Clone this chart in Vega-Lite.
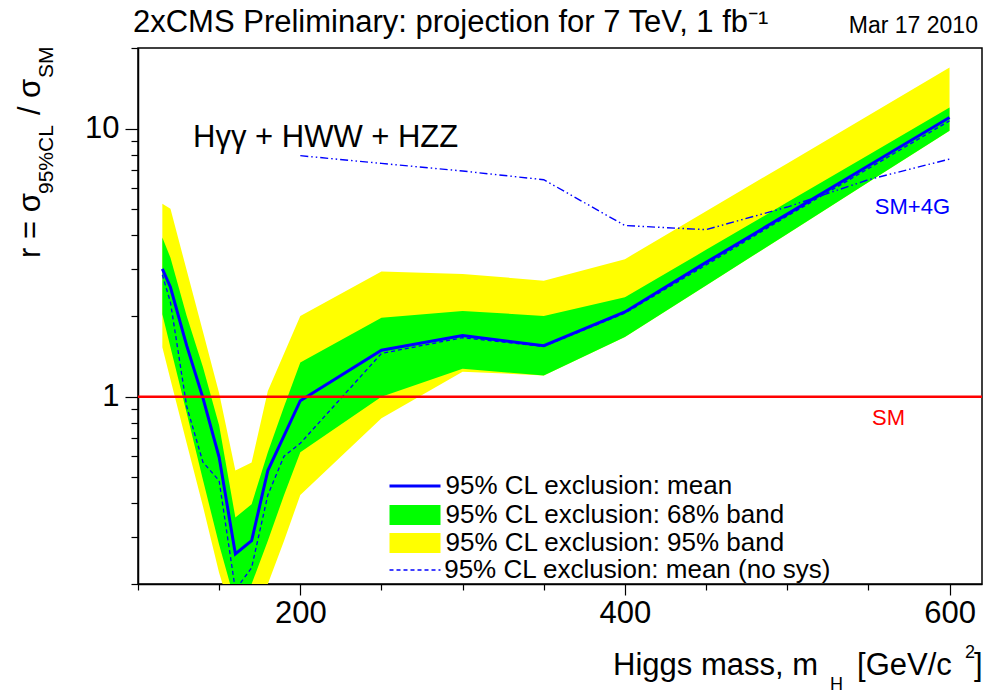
{
  "$schema": "https://vega.github.io/schema/vega-lite/v6.json",
  "width": 844,
  "height": 536,
  "autosize": {"type": "none"},
  "padding": {"left": 138, "top": 48, "right": 5, "bottom": 109},
  "background": "white",
  "config": {
    "view": {"stroke": "black", "strokeWidth": 1.5},
    "font": "Liberation Sans"
  },
  "data": {
    "values": [
      {"m": 115, "mean": 3.0, "nosys": 2.85, "g_lo": 2.03, "g_hi": 3.93, "y_lo": 1.53, "y_hi": 5.25, "sm4g": null},
      {"m": 120, "mean": 2.56, "nosys": 2.25, "g_lo": 1.53, "g_hi": 3.3, "y_lo": 1.16, "y_hi": 5.03, "sm4g": null},
      {"m": 130, "mean": 1.55, "nosys": 0.92, "g_lo": 0.87, "g_hi": 2.0, "y_lo": 0.67, "y_hi": 2.96, "sm4g": null},
      {"m": 140, "mean": 0.99, "nosys": 0.57, "g_lo": 0.49, "g_hi": 1.29, "y_lo": 0.39, "y_hi": 1.75, "sm4g": null},
      {"m": 150, "mean": 0.594, "nosys": 0.486, "g_lo": 0.28, "g_hi": 0.78, "y_lo": 0.22, "y_hi": 1.03, "sm4g": null},
      {"m": 160, "mean": 0.259, "nosys": 0.19, "g_lo": 0.17, "g_hi": 0.354, "y_lo": 0.14, "y_hi": 0.53, "sm4g": null},
      {"m": 170, "mean": 0.29, "nosys": 0.23, "g_lo": 0.2, "g_hi": 0.397, "y_lo": 0.15, "y_hi": 0.568, "sm4g": null},
      {"m": 180, "mean": 0.53, "nosys": 0.43, "g_lo": 0.29, "g_hi": 0.62, "y_lo": 0.2, "y_hi": 1.05, "sm4g": null},
      {"m": 190, "mean": 0.715, "nosys": 0.6, "g_lo": 0.43, "g_hi": 0.92, "y_lo": 0.29, "y_hi": 1.45, "sm4g": null},
      {"m": 200, "mean": 0.966, "nosys": 0.67, "g_lo": 0.62, "g_hi": 1.34, "y_lo": 0.43, "y_hi": 2.0, "sm4g": 7.93},
      {"m": 250, "mean": 1.49, "nosys": 1.45, "g_lo": 1.0, "g_hi": 1.97, "y_lo": 0.83, "y_hi": 2.93, "sm4g": 7.42},
      {"m": 300, "mean": 1.69, "nosys": 1.66, "g_lo": 1.27, "g_hi": 2.09, "y_lo": 1.24, "y_hi": 2.87, "sm4g": 6.95},
      {"m": 350, "mean": 1.55, "nosys": 1.54, "g_lo": 1.2, "g_hi": 2.0, "y_lo": 1.2, "y_hi": 2.71, "sm4g": 6.45},
      {"m": 400, "mean": 2.07, "nosys": 2.05, "g_lo": 1.67, "g_hi": 2.35, "y_lo": 1.67, "y_hi": 3.26, "sm4g": 4.35},
      {"m": 450, "mean": 3.17, "nosys": 3.1, "g_lo": 2.6, "g_hi": 3.53, "y_lo": 2.6, "y_hi": 4.92, "sm4g": 4.2},
      {"m": 500, "mean": 4.8, "nosys": 4.72, "g_lo": 4.05, "g_hi": 5.31, "y_lo": 4.05, "y_hi": 7.42, "sm4g": 5.1},
      {"m": 550, "mean": 7.27, "nosys": 7.1, "g_lo": 6.31, "g_hi": 7.98, "y_lo": 6.31, "y_hi": 11.2, "sm4g": 6.45},
      {"m": 600, "mean": 11.0, "nosys": 10.7, "g_lo": 9.83, "g_hi": 12.0, "y_lo": 9.83, "y_hi": 16.9, "sm4g": 7.7}
    ]
  },
  "layer": [
    {
      "mark": {"type": "area", "clip": true, "opacity": 1},
      "encoding": {
        "x": {
          "field": "m", "type": "quantitative",
          "scale": {"domain": [100, 620], "nice": false, "zero": false},
          "axis": {
            "title": null,
            "values": [100, 150, 200, 250, 300, 350, 400, 450, 500, 550, 600],
            "labelExpr": "datum.value == 200 || datum.value == 400 || datum.value == 600 ? datum.label : ''",
            "tickSize": {"condition": {"test": "datum.value == 200 || datum.value == 400 || datum.value == 600", "value": 11}, "value": 6},
            "labelFont": "Liberation Sans", "labelFontSize": 31, "labelColor": "black", "labelPadding": 3,
            "domainColor": "black", "domainWidth": 1.5, "tickColor": "black", "tickWidth": 1.2, "grid": false
          }
        },
        "y": {
          "field": "y_lo", "type": "quantitative",
          "scale": {"type": "log", "domain": [0.2, 20], "nice": false},
          "axis": {
            "title": null,
            "values": [0.2, 0.3, 0.4, 0.5, 0.6, 0.7, 0.8, 0.9, 1, 2, 3, 4, 5, 6, 7, 8, 9, 10, 20],
            "format": "~g",
            "labelExpr": "datum.value == 1 || datum.value == 10 ? datum.label : ''",
            "tickSize": {"condition": {"test": "datum.value == 1 || datum.value == 10", "value": 13}, "value": 7},
            "labelFont": "Liberation Sans", "labelFontSize": 31, "labelColor": "black", "labelPadding": 6,
            "domainColor": "black", "domainWidth": 1.5, "tickColor": "black", "tickWidth": 1.2, "grid": false
          }
        },
        "y2": {"field": "y_hi"},
        "fill": {
          "datum": "95% CL exclusion: 95% band", "type": "nominal",
          "scale": {
            "domain": ["95% CL exclusion: 68% band", "95% CL exclusion: 95% band"],
            "range": ["#00ff00", "#ffff00"]
          },
          "legend": {
            "title": null, "orient": "none", "legendX": 264, "legendY": 454, "padding": 0,
            "labelFont": "Liberation Sans", "labelFontSize": 26, "labelColor": "black", "labelLimit": 0,
            "labelOffset": 17.5, "rowPadding": 2, "symbolSize": 400,
            "symbolType": "M-2.55,-1H2.55V1H-2.55Z", "symbolStrokeWidth": 0, "symbolOpacity": 1
          }
        }
      }
    },
    {
      "mark": {"type": "area", "clip": true, "opacity": 1},
      "encoding": {
        "x": {"field": "m", "type": "quantitative"},
        "y": {"field": "g_lo", "type": "quantitative"},
        "y2": {"field": "g_hi"},
        "fill": {"datum": "95% CL exclusion: 68% band", "type": "nominal"}
      }
    },
    {
      "mark": {"type": "line", "clip": true, "strokeWidth": 1.3, "color": "#0000ff"},
      "encoding": {
        "x": {"field": "m", "type": "quantitative"},
        "y": {"field": "nosys", "type": "quantitative"},
        "strokeDash": {
          "datum": "95% CL exclusion: mean (no sys)", "type": "nominal",
          "scale": {"domain": ["95% CL exclusion: mean (no sys)"], "range": [[4, 3]]},
          "legend": {
            "title": null, "orient": "none", "legendX": 264, "legendY": 509, "padding": 0,
            "labelFont": "Liberation Sans", "labelFontSize": 26, "labelColor": "black", "labelLimit": 0,
            "labelOffset": 16.2, "symbolSize": 400,
            "symbolType": "M-2.55,0H2.55", "symbolStrokeWidth": 1.3, "symbolStrokeColor": "#0000ff", "symbolFillColor": "transparent", "symbolOpacity": 1
          }
        }
      }
    },
    {
      "mark": {"type": "line", "clip": true, "strokeWidth": 3},
      "encoding": {
        "x": {"field": "m", "type": "quantitative"},
        "y": {"field": "mean", "type": "quantitative"},
        "stroke": {
          "datum": "95% CL exclusion: mean", "type": "nominal",
          "scale": {"domain": ["95% CL exclusion: mean"], "range": ["#0000ff"]},
          "legend": {
            "title": null, "orient": "none", "legendX": 264, "legendY": 425, "padding": 0,
            "labelFont": "Liberation Sans", "labelFontSize": 26, "labelColor": "black", "labelLimit": 0,
            "labelOffset": 17.5, "symbolSize": 400,
            "symbolType": "M-2.55,0H2.55", "symbolStrokeWidth": 3, "symbolFillColor": "transparent", "symbolOpacity": 1
          }
        }
      }
    },
    {
      "mark": {"type": "line", "clip": true, "strokeWidth": 1.4, "color": "#0000ff", "strokeDash": [8, 3, 1.5, 3, 1.5, 3]},
      "encoding": {
        "x": {"field": "m", "type": "quantitative"},
        "y": {"field": "sm4g", "type": "quantitative"}
      }
    },
    {
      "data": {"values": [{}]},
      "mark": {"type": "rule", "color": "#ff0000", "strokeWidth": 2.5},
      "encoding": {"y": {"datum": 1}}
    },
    {
      "data": {"values": [{}]},
      "mark": {"type": "text", "text": "2xCMS Preliminary: projection for 7 TeV, 1 fb⁻¹", "font": "Liberation Sans", "fontSize": 31, "align": "left", "baseline": "alphabetic", "color": "black"},
      "encoding": {"x": {"datum": 96.9}, "y": {"datum": 22.95}}
    },
    {
      "data": {"values": [{}]},
      "mark": {"type": "text", "text": "Mar 17 2010", "font": "Liberation Sans", "fontSize": 23, "align": "right", "baseline": "alphabetic", "color": "black"},
      "encoding": {"x": {"datum": 617.5}, "y": {"datum": 22.75}}
    },
    {
      "data": {"values": [{}]},
      "mark": {"type": "text", "text": "Hγγ + HWW + HZZ", "font": "Liberation Sans", "fontSize": 31, "align": "left", "baseline": "alphabetic", "color": "black"},
      "encoding": {"x": {"datum": 133.9}, "y": {"datum": 8.544}}
    },
    {
      "data": {"values": [{}]},
      "mark": {"type": "text", "text": "SM+4G", "font": "Liberation Sans", "fontSize": 22, "align": "right", "baseline": "alphabetic", "color": "#0000ff"},
      "encoding": {"x": {"datum": 600.3}, "y": {"datum": 4.805}}
    },
    {
      "data": {"values": [{}]},
      "mark": {"type": "text", "text": "SM", "font": "Liberation Sans", "fontSize": 22, "align": "left", "baseline": "alphabetic", "color": "#ff0000"},
      "encoding": {"x": {"datum": 552.2}, "y": {"datum": 0.784}}
    },
    {
      "data": {"values": [{}]},
      "mark": {"type": "text", "text": "r = σ", "font": "Liberation Sans", "fontSize": 31, "angle": 270, "align": "left", "baseline": "alphabetic", "color": "black"},
      "encoding": {"x": {"datum": 39.62}, "y": {"datum": 3.292}}
    },
    {
      "data": {"values": [{}]},
      "mark": {"type": "text", "text": "95%CL", "font": "Liberation Sans", "fontSize": 21, "angle": 270, "align": "left", "baseline": "alphabetic", "color": "black"},
      "encoding": {"x": {"datum": 47.63}, "y": {"datum": 5.705}}
    },
    {
      "data": {"values": [{}]},
      "mark": {"type": "text", "text": "/", "font": "Liberation Sans", "fontSize": 31, "angle": 270, "align": "left", "baseline": "alphabetic", "color": "black"},
      "encoding": {"x": {"datum": 39.62}, "y": {"datum": 11.25}}
    },
    {
      "data": {"values": [{}]},
      "mark": {"type": "text", "text": "σ", "font": "Liberation Sans", "fontSize": 31, "angle": 270, "align": "left", "baseline": "alphabetic", "color": "black"},
      "encoding": {"x": {"datum": 39.62}, "y": {"datum": 13.02}}
    },
    {
      "data": {"values": [{}]},
      "mark": {"type": "text", "text": "SM", "font": "Liberation Sans", "fontSize": 21, "angle": 270, "align": "left", "baseline": "alphabetic", "color": "black"},
      "encoding": {"x": {"datum": 47.63}, "y": {"datum": 15.46}}
    },
    {
      "data": {"values": [{}]},
      "mark": {"type": "text", "text": "Higgs mass, m", "font": "Liberation Sans", "fontSize": 31, "align": "right", "baseline": "alphabetic", "color": "black"},
      "encoding": {"x": {"datum": 519.0}, "y": {"datum": 0.09151}}
    },
    {
      "data": {"values": [{}]},
      "mark": {"type": "text", "text": "H", "font": "Liberation Sans", "fontSize": 18, "align": "left", "baseline": "alphabetic", "color": "black"},
      "encoding": {"x": {"datum": 526.4}, "y": {"datum": 0.0804}}
    },
    {
      "data": {"values": [{}]},
      "mark": {"type": "text", "text": "[GeV/c", "font": "Liberation Sans", "fontSize": 31, "align": "left", "baseline": "alphabetic", "color": "black"},
      "encoding": {"x": {"datum": 543.0}, "y": {"datum": 0.09151}}
    },
    {
      "data": {"values": [{}]},
      "mark": {"type": "text", "text": "2", "font": "Liberation Sans", "fontSize": 18, "align": "left", "baseline": "alphabetic", "color": "black"},
      "encoding": {"x": {"datum": 609.5}, "y": {"datum": 0.1059}}
    },
    {
      "data": {"values": [{}]},
      "mark": {"type": "text", "text": "]", "font": "Liberation Sans", "fontSize": 31, "align": "left", "baseline": "alphabetic", "color": "black"},
      "encoding": {"x": {"datum": 615.1}, "y": {"datum": 0.09151}}
    }
  ]
}
